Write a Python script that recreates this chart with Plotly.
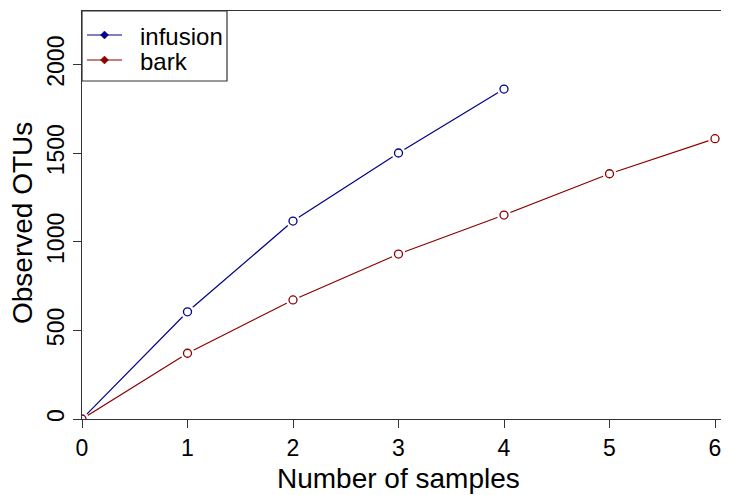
import plotly.graph_objects as go

# ---- data ----
samples_infusion = [0, 1, 2, 3, 4]
otus_infusion = [0, 605, 1117, 1501, 1862]
samples_bark = [0, 1, 2, 3, 4, 5, 6]
otus_bark = [0, 371, 672, 931, 1151, 1384, 1582]
series_names = ["infusion", "bark"]
x_ticks = [0, 1, 2, 3, 4, 5, 6]
y_ticks = [0, 500, 1000, 1500, 2000]

BLUE = "#00008B"
RED = "#8B0000"
AXIS = "#333333"
FONT = "Liberation Sans, Arial, sans-serif"

# The page body has an 8px margin, so the figure is drawn 8px smaller and all
# page-pixel positions below are converted to paper coordinates of the plot box.
W, H = 721, 487
PL, PR, PT, PB = 82, 729, 11, 419          # plot box in page pixels


def px(xp):
    return (xp - PL) / (PR - PL)


def py(yp):
    return (PB - yp) / (PB - PT)


fig = go.Figure()

for xs, ys, col in [(samples_infusion, otus_infusion, BLUE), (samples_bark, otus_bark, RED)]:
    fig.add_trace(go.Scatter(x=xs, y=ys, mode="lines", line=dict(color=col, width=1.2),
                             showlegend=False, hoverinfo="skip"))
    # white masks to mimic R's type="b" gaps between lines and points
    fig.add_trace(go.Scatter(x=xs, y=ys, mode="markers",
                             marker=dict(symbol="circle", size=14, color="white",
                                         line=dict(width=0)),
                             showlegend=False, hoverinfo="skip"))
    fig.add_trace(go.Scatter(x=xs, y=ys, mode="markers",
                             marker=dict(symbol="circle-open", size=8, color=col,
                                         line=dict(width=1.3, color=col)),
                             showlegend=False))

# ---- legend (drawn as a bordered box in paper coordinates) ----
shapes = [dict(type="rect", xref="paper", yref="paper",
               x0=px(82), x1=px(227), y0=py(81), y1=py(11),
               line=dict(color=AXIS, width=1.2), fillcolor="white", layer="above")]
annotations = []
for name, col, yrow in zip(series_names, [BLUE, RED], [35, 60]):
    shapes.append(dict(type="line", xref="paper", yref="paper",
                       x0=px(87), x1=px(122), y0=py(yrow), y1=py(yrow),
                       line=dict(color=col, width=1.2), layer="above"))
    shapes.append(dict(type="path", xref="paper", yref="paper",
                       xsizemode="pixel", ysizemode="pixel",
                       xanchor=px(104.5), yanchor=py(yrow),
                       path="M 0,-4 L 4,0 L 0,4 L -4,0 Z",
                       fillcolor=col, line=dict(color=col, width=0.5), layer="above"))
    annotations.append(dict(text=name, xref="paper", yref="paper",
                            x=px(138), y=py(yrow + 1), xanchor="left", yanchor="middle",
                            showarrow=False, font=dict(size=24, family=FONT, color="black")))

annotations += [
    dict(text="Number of samples", xref="paper", yref="paper",
         x=px(398.5), y=py(479), xanchor="center", yanchor="middle", showarrow=False,
         font=dict(size=28, family=FONT)),
    dict(text="Observed OTUs", xref="paper", yref="paper",
         x=px(23), y=py(223), xanchor="center", yanchor="middle", textangle=-90,
         showarrow=False, font=dict(size=28, family=FONT)),
]

fig.update_layout(
    width=W, height=H,
    margin=dict(l=PL - 8, r=0, t=PT - 8, b=H - (PB - 8)),
    paper_bgcolor="white", plot_bgcolor="white",
    font=dict(family=FONT, color="black"),
    showlegend=False,
    shapes=shapes,
    annotations=annotations,
    xaxis=dict(range=[0, (PR - PL) / 105.5], tickvals=x_ticks,
               ticktext=[str(v) for v in x_ticks],
               showgrid=False, zeroline=False, showline=True, linecolor=AXIS,
               linewidth=1.3, mirror=True, ticks="outside", ticklen=8, tickwidth=1.3,
               tickcolor=AXIS, tickfont=dict(size=23, family=FONT)),
    yaxis=dict(range=[0, (PB - PT) / 88.6 * 500], tickvals=y_ticks,
               ticktext=[str(v) for v in y_ticks],
               showgrid=False, zeroline=False, showline=True, linecolor=AXIS,
               linewidth=1.3, ticks="outside", ticklen=8, tickwidth=1.3,
               tickcolor=AXIS, tickangle=-90, tickfont=dict(size=23, family=FONT)),
)

fig.write_html("out.html")
